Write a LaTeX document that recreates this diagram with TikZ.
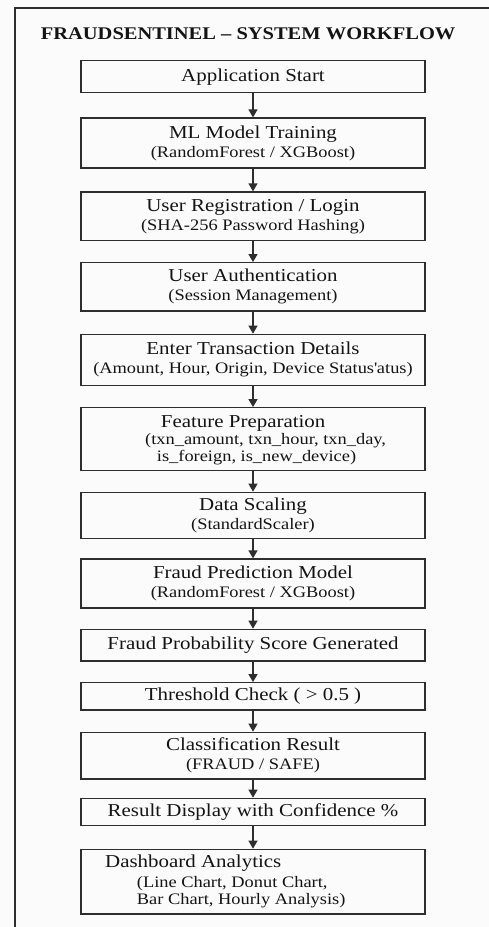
\documentclass[tikz,border=0pt]{standalone}
\usepackage{fontspec}
\setmainfont{Liberation Serif}[FakeStretch=1.15]
\usetikzlibrary{arrows.meta}
\definecolor{ln}{HTML}{2E2E2E}
\definecolor{tx}{HTML}{141414}
\definecolor{bg}{HTML}{FBFBFB}
\newcommand{\mainf}{\fontsize{18.2}{20}\selectfont}
\newcommand{\subf}{\fontsize{16}{19}\selectfont}
\newcommand{\titlef}{\fontsize{17.8}{20}\selectfont}
\begin{document}
\begin{tikzpicture}[x=1pt,y=-1pt,
  box/.style={draw=ln, line width=1.3pt, minimum width=344pt, inner sep=0pt, align=center, text=tx, font=\mainf},
  arr/.style={draw=ln, line width=1.3pt, -{Triangle[width=9pt,length=8pt]}},
  txt/.style={anchor=base west, inner sep=0pt, text=tx},
  frame/.style={draw=ln, line width=1.4pt}]
\fill[bg] (0,0) rectangle (489,927);
\useasboundingbox (0,0) rectangle (489,927);
\draw[frame] (15,927) -- (15,8) -- (489,8);
\node[txt, font=\bfseries\titlef] (title) at (40.7,39) {FRAUDSENTINEL \textendash{} SYSTEM WORKFLOW};

\node[box, minimum height=32pt] (b1) at (253,76.7) {Application Start};
\node[box, minimum height=50pt] (b2) at (253,143) {ML Model Training\\[-1pt]{\subf (RandomForest / XGBoost)}};
\node[box, minimum height=48.7pt] (b3) at (253,216.35) {User Registration / Login\\[-1pt]{\subf (SHA-256 Password Hashing)}};
\node[box, minimum height=48.3pt] (b4) at (253,286.85) {User Authentication\\[-1pt]{\subf (Session Management)}};
\node[box, minimum height=51pt] (b5) at (253,359.8) {Enter Transaction Details\\[-1pt]{\subf (Amount, Hour, Origin, Device Status\textquotesingle atus)}};
\node[box, minimum height=63pt] (b6) at (253,439.2) {};
\node[txt, font=\mainf] (b6a) at (160.7,427) {Feature Preparation};
\node[txt, font=\subf] (b6b) at (145,444) {(txn\_amount, txn\_hour, txn\_day,};
\node[txt, font=\subf] (b6c) at (156.7,461.7) {is\_foreign, is\_new\_device)};
\node[box, minimum height=46pt] (b7) at (253,515.3) {Data Scaling\\[-1pt]{\subf (StandardScaler)}};
\node[box, minimum height=49pt] (b8) at (253,583.5) {Fraud Prediction Model\\[-1pt]{\subf (RandomForest / XGBoost)}};
\node[box, minimum height=31.7pt] (b9) at (253,645.15) {Fraud Probability Score Generated};
\node[box, minimum height=27.3pt] (b10) at (253,696.35) {Threshold Check ( > 0.5 )};
\node[box, minimum height=46.7pt] (b11) at (253,755.65) {Classification Result\\[-1pt]{\subf (FRAUD / SAFE)}};
\node[box, minimum height=27.4pt] (b12) at (253,812) {Result Display with Confidence \%};
\node[box, minimum height=64.7pt] (b13) at (253,881.65) {};
\node[txt, font=\mainf] (b13a) at (105,867.3) {Dashboard Analytics};
\node[txt, font=\subf] (b13b) at (136.7,887.3) {(Line Chart, Donut Chart,};
\node[txt, font=\subf] (b13c) at (136.7,904.3) {Bar Chart, Hourly Analysis)};

\foreach \a/\b in {b1/b2,b2/b3,b3/b4,b4/b5,b5/b6,b6/b7,b7/b8,b8/b9,b9/b10,b10/b11,b11/b12,b12/b13}
  \draw[arr] (\a) -- (\b);
\end{tikzpicture}
\end{document}
